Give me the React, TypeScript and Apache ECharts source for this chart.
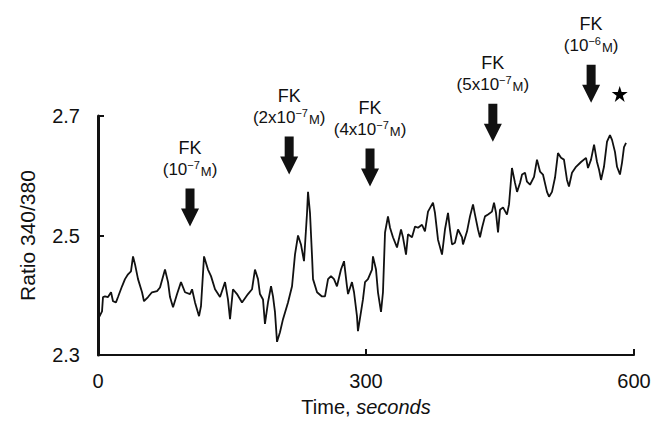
import React, { useEffect, useRef } from "react";
import * as echarts from "echarts";

// Trace: time (s) and fluorescence ratio 340/380
const time = [
  1.1, 4.5, 5.6, 7.8, 11.2, 14.6, 16.8, 20.1, 22.4, 26.9, 30.2, 33.6, 36.9, 39.2, 41.4, 44.8, 49.3, 51.5, 56.0, 60.4,
  66.1, 69.4, 75.0, 78.4, 80.6, 84.0, 88.5, 92.9, 97.4, 103.0, 105.3, 108.6, 113.1, 115.3, 118.7, 123.1, 126.5, 131.0, 136.6, 142.2,
  145.5, 147.8, 151.1, 155.6, 161.2, 167.9, 172.4, 175.7, 179.1, 181.3, 184.7, 186.9, 190.3, 193.7, 195.9, 198.1, 200.4, 203.7, 207.1, 212.7,
  217.2, 220.5, 223.9, 227.2, 230.6, 234.0, 235.1, 237.3, 239.6, 240.7, 245.2, 250.7, 254.1, 257.5, 260.8, 264.2, 267.5, 272.0, 275.4, 278.7,
  279.9, 284.3, 286.6, 289.9, 291.0, 294.4, 296.6, 298.9, 302.2, 306.7, 307.8, 311.2, 313.4, 316.8, 319.0, 321.3, 324.6, 326.9, 330.2, 334.7,
  339.2, 341.4, 344.8, 347.0, 351.5, 354.9, 358.2, 362.7, 366.0, 369.4, 375.0, 377.2, 380.6, 385.1, 388.4, 391.8, 394.0, 396.3, 399.6, 403.0,
  407.5, 408.6, 413.1, 416.4, 419.8, 422.0, 425.4, 427.6, 429.9, 433.2, 436.6, 441.0, 443.3, 445.5, 447.8, 450.0, 453.4, 457.8, 460.1, 463.4,
  466.8, 469.1, 472.4, 474.7, 478.0, 480.2, 483.6, 488.1, 491.4, 494.8, 498.1, 502.6, 504.9, 508.2, 511.6, 514.9, 518.3, 521.6, 525.0, 527.2,
  530.6, 535.1, 540.7, 546.3, 548.5, 551.9, 555.3, 558.6, 560.9, 563.1, 566.4, 569.8, 573.1, 575.4, 578.7, 581.0, 584.3, 586.6, 588.8, 591.1,
];
const ratio = [
  2.363, 2.373, 2.397, 2.398, 2.397, 2.405, 2.390, 2.388, 2.397, 2.415, 2.427, 2.435, 2.440, 2.465, 2.452, 2.427, 2.405, 2.390, 2.397, 2.405,
  2.407, 2.413, 2.443, 2.422, 2.397, 2.380, 2.402, 2.422, 2.405, 2.402, 2.410, 2.388, 2.365, 2.382, 2.465, 2.443, 2.432, 2.410, 2.397, 2.422,
  2.393, 2.360, 2.410, 2.402, 2.388, 2.402, 2.410, 2.443, 2.427, 2.402, 2.393, 2.352, 2.388, 2.415, 2.398, 2.372, 2.322, 2.338, 2.360, 2.388,
  2.415, 2.468, 2.500, 2.485, 2.457, 2.538, 2.573, 2.538, 2.465, 2.427, 2.405, 2.398, 2.398, 2.427, 2.432, 2.427, 2.415, 2.443, 2.457, 2.415,
  2.402, 2.422, 2.405, 2.365, 2.340, 2.372, 2.393, 2.422, 2.427, 2.443, 2.465, 2.443, 2.405, 2.372, 2.405, 2.505, 2.532, 2.513, 2.497, 2.480,
  2.510, 2.497, 2.468, 2.502, 2.497, 2.515, 2.513, 2.518, 2.507, 2.540, 2.555, 2.538, 2.493, 2.468, 2.510, 2.538, 2.510, 2.485, 2.488, 2.510,
  2.497, 2.485, 2.507, 2.532, 2.552, 2.535, 2.510, 2.497, 2.513, 2.532, 2.535, 2.540, 2.555, 2.538, 2.505, 2.543, 2.547, 2.535, 2.552, 2.613,
  2.588, 2.573, 2.588, 2.602, 2.605, 2.590, 2.585, 2.598, 2.627, 2.607, 2.602, 2.573, 2.565, 2.573, 2.597, 2.638, 2.630, 2.627, 2.593, 2.582,
  2.605, 2.615, 2.623, 2.630, 2.613, 2.627, 2.652, 2.623, 2.610, 2.593, 2.615, 2.657, 2.668, 2.660, 2.640, 2.615, 2.602, 2.622, 2.648, 2.655,
];

// FK additions: time of addition, ratio at arrow tip, dose text
const fkTime = [103, 214, 304.5, 442, 552];
const fkTipRatio = [2.515, 2.602, 2.582, 2.657, 2.722];
const fkDose = ["10", "2x10", "4x10", "5x10", "10"];
const fkExp = ["−7", "−7", "−7", "−7", "−6"];

const starTime = [584];
const starRatio = [2.737];

const xTicks = [0, 300, 600];
const yTicks = [2.3, 2.5, 2.7];

const FONT = "'Liberation Sans', Arial, Helvetica, sans-serif";
const INK = "#111111";

export default function App() {
  const ref = useRef<HTMLDivElement>(null);

  useEffect(() => {
    if (!ref.current) return;
    const chart = echarts.init(ref.current, undefined, { renderer: "svg" });

    const n = Math.min(time.length, ratio.length);
    const trace = [] as number[][];
    for (let i = 0; i < n; i++) trace.push([time[i], ratio[i]]);

    const fkData = fkTime.map((t, i) => [t, fkTipRatio[i]]);
    const starData = starTime.map((t, i) => [t, starRatio[i]]);

    chart.setOption({
      animation: false,
      backgroundColor: "#ffffff",
      grid: { left: 98, right: 30, top: 116, bottom: 66, containLabel: false },
      xAxis: {
        type: "value",
        min: 0,
        max: 600,
        interval: 300,
        name: "{n|Time, }{i|seconds}",
        nameLocation: "middle",
        nameGap: 42,
        nameTextStyle: {
          rich: {
            n: { fontSize: 20, fontFamily: FONT, color: INK },
            i: { fontSize: 20, fontFamily: FONT, color: INK, fontStyle: "italic" },
          },
        },
        axisLine: { show: true, onZero: false, lineStyle: { color: INK, width: 2 } },
        axisTick: { show: true, inside: true, length: 6, lineStyle: { color: INK, width: 2 }, customValues: xTicks.slice(1) },
        axisLabel: { fontSize: 20, fontFamily: FONT, color: INK, margin: 16, customValues: xTicks },
        splitLine: { show: false },
      },
      yAxis: {
        type: "value",
        min: 2.3,
        max: 2.7,
        name: "Ratio 340/380",
        nameLocation: "middle",
        nameRotate: 90,
        nameGap: 60,
        nameTextStyle: { fontSize: 21, fontFamily: FONT, color: INK },
        axisLine: { show: true, onZero: false, lineStyle: { color: INK, width: 3 } },
        axisTick: { show: true, inside: true, length: 6, lineStyle: { color: INK, width: 2 }, customValues: yTicks.slice(1) },
        axisLabel: {
          fontSize: 20,
          fontFamily: FONT,
          color: INK,
          margin: 18,
          customValues: yTicks,
          formatter: (v: number) => v.toFixed(1),
        },
        splitLine: { show: false },
      },
      series: [
        {
          type: "line",
          data: trace,
          symbol: "none",
          lineStyle: { color: INK, width: 1.8 },
          silent: true,
        },
        {
          type: "custom",
          clip: false,
          silent: true,
          data: fkData,
          renderItem: (params: any, api: any) => {
            const i = params.dataIndex;
            const p = api.coord([api.value(0), api.value(1)]);
            const x = p[0];
            const y = p[1];
            return {
              type: "group",
              children: [
                {
                  type: "polygon",
                  shape: {
                    points: [
                      [x - 4.5, y - 38],
                      [x + 4.5, y - 38],
                      [x + 4.5, y - 18],
                      [x + 9, y - 18],
                      [x, y],
                      [x - 9, y - 18],
                      [x - 4.5, y - 18],
                    ],
                  },
                  style: { fill: INK },
                },
                {
                  type: "text",
                  x,
                  y: y - 79,
                  style: {
                    text: "FK",
                    fontSize: 18,
                    fontFamily: FONT,
                    fill: INK,
                    align: "center",
                    verticalAlign: "middle",
                  },
                },
                {
                  type: "text",
                  x,
                  y: y - 57,
                  style: {
                    text: `{b|(${fkDose[i]}}{s|${fkExp[i]}}{m|M}{b|)}`,
                    fontFamily: FONT,
                    fill: INK,
                    align: "center",
                    verticalAlign: "middle",
                    rich: {
                      b: { fontSize: 17, fontFamily: FONT, fill: INK, color: INK, verticalAlign: "middle", lineHeight: 20 },
                      s: { fontSize: 11, fontFamily: FONT, fill: INK, color: INK, verticalAlign: "top", lineHeight: 20, padding: [0, 1, 4, 0] },
                      m: { fontSize: 13, fontFamily: FONT, fill: INK, color: INK, verticalAlign: "middle", lineHeight: 20, padding: [3, 0, 0, 0] },
                    },
                  },
                },
              ],
            };
          },
        },
        {
          type: "scatter",
          data: starData,
          silent: true,
          symbol:
            "path://M50,0 L61.8,35.4 L99,35.4 L69,57.3 L80.3,92.7 L50,70.8 L19.7,92.7 L31,57.3 L1,35.4 L38.2,35.4 Z",
          symbolSize: 16,
          itemStyle: { color: "#000000", opacity: 1 },
          clip: false,
        },
      ],
    });

    return () => chart.dispose();
  }, []);

  return (
    <div
      ref={ref}
      style={{ position: "fixed", left: 0, top: 0, width: 664, height: 422, background: "#fff" }}
    />
  );
}
